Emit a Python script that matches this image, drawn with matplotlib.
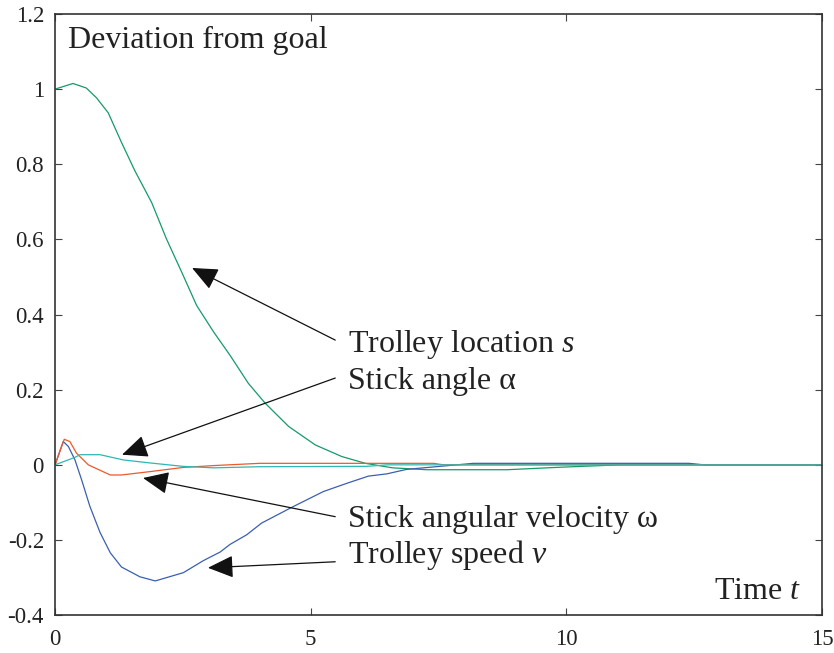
import matplotlib
matplotlib.use("Agg")
import matplotlib.pyplot as plt

plt.rcParams['font.family'] = ['Liberation Serif', 'DejaVu Serif']
plt.rcParams['mathtext.fontset'] = 'custom'
plt.rcParams['mathtext.rm'] = 'Liberation Serif'
plt.rcParams['mathtext.it'] = 'Liberation Serif:italic'

# Trolley location s
t_s = [0, 0.35, 0.61, 0.81, 1.04, 1.30, 1.56, 1.89, 2.18, 2.48, 2.77, 3.10, 3.42,
       3.78, 4.11, 4.57, 5.09, 5.61, 6.07, 6.6, 7.27, 8.84, 9.94, 11.05, 15]
y_s = [1.0, 1.015, 1.003, 0.977, 0.937, 0.858, 0.783, 0.698, 0.601, 0.512, 0.424, 0.354, 0.292,
       0.217, 0.164, 0.102, 0.053, 0.022, 0.004, -0.008, -0.013, -0.013, -0.006, 0, 0]

# Trolley speed v
t_v = [0, 0.16, 0.26, 0.39, 0.52, 0.68, 0.88, 1.08, 1.30, 1.66, 1.96, 2.51, 2.90, 3.23,
       3.42, 3.75, 4.04, 4.66, 5.25, 5.71, 6.13, 6.49, 6.88, 7.53, 8.18, 12.4, 12.7, 15]
y_v = [0, 0.062, 0.049, 0.013, -0.04, -0.11, -0.18, -0.234, -0.272, -0.298, -0.309, -0.287, -0.255, -0.232,
       -0.212, -0.186, -0.155, -0.111, -0.071, -0.049, -0.030, -0.024, -0.012, -0.004, 0.004, 0.004, 0, 0]

# Stick angular velocity omega
t_w = [0, 0.18, 0.29, 0.42, 0.65, 1.08, 1.30, 1.86, 2.5, 3.1, 4.0, 7.4, 7.6, 15]
y_w = [0, 0.068, 0.062, 0.031, 0, -0.027, -0.027, -0.018, -0.007, -0.002, 0.004, 0.004, 0, 0]

# Stick angle alpha
t_a = [0, 0.39, 0.49, 0.88, 1.34, 1.86, 2.5, 3.1, 4.0, 6.1, 6.5, 15]
y_a = [0, 0.02, 0.027, 0.027, 0.013, 0.005, -0.004, -0.008, -0.005, -0.004, 0, 0]

fig = plt.figure(figsize=(8.34, 6.53), dpi=100)
ax = fig.add_axes([0.066, 0.058, 0.9196, 0.9206])

ax.plot(t_s, y_s, color='#16996a', lw=0.9)
ax.plot(t_v, y_v, color='#3a5fb0', lw=0.9)
ax.plot(t_w, y_w, color='#ec5a2a', lw=0.9)
ax.plot(t_a, y_a, color='#2fb7b2', lw=0.9)

ax.set_xlim(0, 15)
ax.set_ylim(-0.4, 1.2)
ax.set_xticks([0, 5, 10, 15])
ax.set_xticklabels(['0', '5', '10', '15'])
yt = [-0.4, -0.2, 0, 0.2, 0.4, 0.6, 0.8, 1, 1.2]
ax.set_yticks(yt)
ax.set_yticklabels(['-0.4', '-0.2', '0', '0.2', '0.4', '0.6', '0.8', '1', '1.2'])
ax.tick_params(direction='in', length=5, width=0.8, labelsize=16.5, top=True, right=True,
               colors='#444444', labelcolor='#222222')
ax.tick_params(axis='x', pad=10)
ax.tick_params(axis='y', pad=8)
for sp in ax.spines.values():
    sp.set_linewidth(1.2)
    sp.set_color('#333333')

fs = 23
ax.text(0.25, 1.13, 'Deviation from goal', fontsize=fs, va='center', ha='left', color='#222222')
ax.text(14.6, -0.338, 'Time $t$', fontsize=fs, va='center', ha='right', color='#222222')

labels = [
    ('Trolley location $s$', (2.68, 0.524), (5.48, 0.332), 0.319),
    ('Stick angle α', (1.31, 0.027), (5.48, 0.231), 0.221),
    ('Stick angular velocity ω', (1.72, -0.035), (5.48, -0.138), -0.146),
    ('Trolley speed $v$', (2.99, -0.274), (5.48, -0.258), -0.239),
]
for txt, head, tail, ty in labels:
    ax.annotate('', xy=head, xytext=tail,
                arrowprops=dict(arrowstyle='-|>,head_length=0.8,head_width=0.35',
                                color='#111111', lw=0.9, mutation_scale=20,
                                shrinkA=0, shrinkB=0))
    ax.text(5.73, ty, txt, fontsize=fs, va='center', ha='left', color='#222222')

fig.savefig('out.png', dpi=100)
